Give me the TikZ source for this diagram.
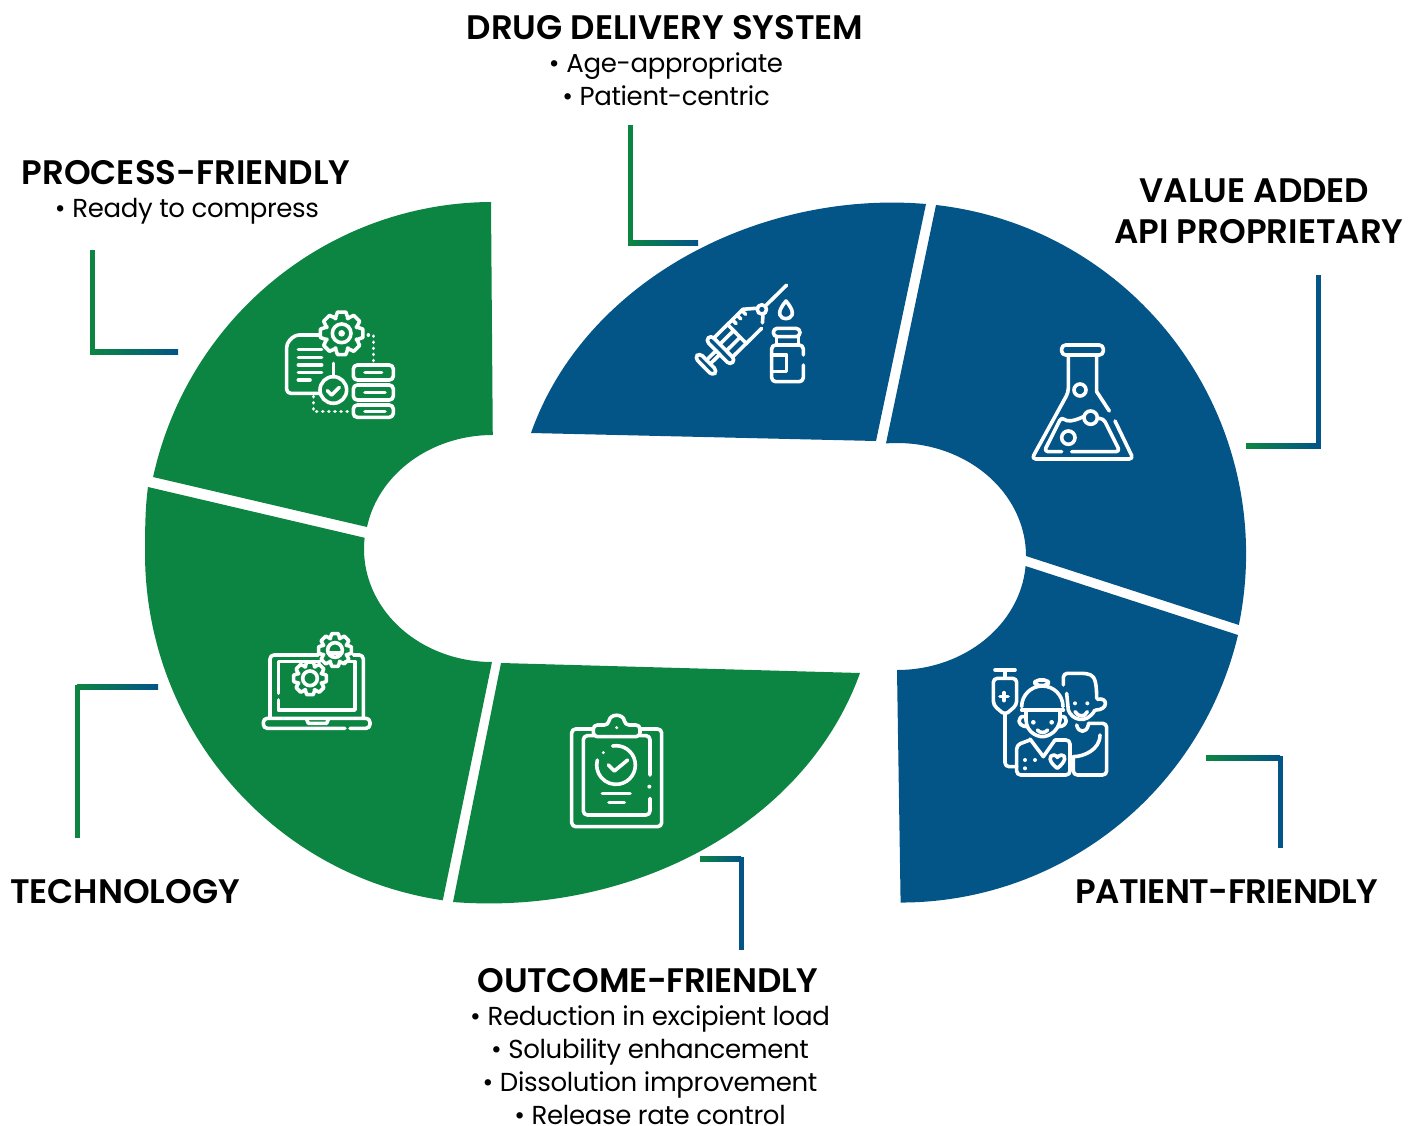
\documentclass[tikz,border=0pt]{standalone}
\usepackage{xcolor}
\usepackage{fontspec}
\usepackage{tikz}
\setmainfont{Poppins}[BoldFont={Poppins SemiBold}]
\definecolor{segGreen}{HTML}{0C8542}
\definecolor{segBlue}{HTML}{035487}
\tikzset{
    seggreen/.style={fill=segGreen},
    segblue/.style={fill=segBlue},
    heading/.style={font=\bfseries\fontsize{34}{41}\selectfont, align=center, inner sep=0pt},
    bullets/.style={font=\fontsize{26}{33}\selectfont\addfontfeature{LetterSpace=-1.3}, align=center, inner sep=0pt},
    greenlink/.style={draw=segGreen, line width=5pt},
    bluelink/.style={draw=segBlue, line width=5pt},
    linkfade/.style={left color=segGreen, right color=segBlue},
    iconline/.style={draw=white, line width=3.6pt, line cap=round, line join=round},
    iconround/.style={iconline, rounded corners=4pt},
    icondots/.style={iconline, dash pattern=on 0.1pt off 6pt},
    icondot/.style={fill=white},
    iconzoom/.style={x=0.3333pt, y=-0.3333pt}
}
\newcommand{\gearicon}[3]{%
    \begin{scope}[shift={(#1,#2)}]
        \draw[iconline] (-24:{0.74*#3}) \foreach \a in {0,45,...,315} {
            -- (\a-24:{0.74*#3}) -- (\a-11:#3) -- (\a+11:#3) -- (\a+24:{0.74*#3})} -- cycle;
    \end{scope}}
\begin{document}
\begin{tikzpicture}[x=1pt, y=-1pt]
    \useasboundingbox (0,0) rectangle (1421,1126);

    % Green half
    \path[seggreen] (491,202) arc[start angle=-90.3, end angle=-167.5, x radius=348, y radius=351]
        -- (367,527) arc[start angle=190.7, end angle=270, x radius=128, y radius=113] -- cycle;
    \path[seggreen] (148,487) .. controls (145.5,505) and (145,525) .. (145,553)
        arc[start angle=180, end angle=98.3, x radius=348, y radius=351]
        -- (492,662) arc[start angle=90, end angle=185.7, x radius=128, y radius=113] -- cycle;
    \path[seggreen] (501,663) -- (860,673) .. controls (805,826) and (630,916) .. (453,902) -- cycle;

    % Blue half
    \path[segblue] (531,433) .. controls (585,280) and (760,190) .. (926,204) -- (876,441) -- cycle;
    \path[segblue] (936,205) arc[start angle=-83.6, end angle=11.7, x radius=349, y radius=351]
        -- (1026,556) arc[start angle=0, end angle=-94.9, x radius=129, y radius=113] -- cycle;
    \path[segblue] (1238,635) arc[start angle=13.5, end angle=90, x radius=347, y radius=349]
        -- (897,670) arc[start angle=90, end angle=4.6, x radius=129, y radius=113] -- cycle;

    % Labels
    \node[heading] (drughead) at (665,28) {DRUG DELIVERY SYSTEM};
    \node[bullets] (drugtext) at (666,79.5) {• Age-appropriate\\• Patient-centric};
    \node[heading] (processhead) at (186,173) {PROCESS-FRIENDLY};
    \node[bullets] (processtext) at (187,211) {• Ready to compress};
    \node[heading] (valuehead) at (1259,211) {VALUE ADDED\hspace*{9pt}\\API PROPRIETARY};
    \node[heading] (techhead) at (125,892) {TECHNOLOGY};
    \node[heading] (patienthead) at (1227,892) {\addfontfeature{LetterSpace=-1.6}PATIENT-FRIENDLY};
    \node[heading] (outcomehead) at (648,981) {\addfontfeature{LetterSpace=-1}OUTCOME-FRIENDLY};
    \node[bullets] (outcometext) at (650,1065.5) {• Reduction in excipient load\\• Solubility enhancement\\• Dissolution improvement\\• Release rate control};

    % Connectors
    \coordinate (procA) at (92,250);
    \coordinate (procB) at (92,352);
    \coordinate (procC) at (178,352);
    \draw[greenlink] (procA) |- (procC);
    \shade[linkfade] ([yshift=2.5pt]procB) rectangle ([yshift=-2.5pt]procC);

    \coordinate (drugA) at (630,125);
    \coordinate (drugB) at (630,243);
    \coordinate (drugC) at (698,243);
    \draw[greenlink] (drugA) |- (drugC);
    \shade[linkfade] ([yshift=2.5pt]drugB) rectangle ([yshift=-2.5pt]drugC);

    \coordinate (valueA) at (1318,275);
    \coordinate (valueB) at (1318,446);
    \coordinate (valueC) at (1246,446);
    \draw[bluelink] (valueA) |- (valueC);
    \shade[linkfade] ([yshift=2.5pt]valueC) rectangle ([yshift=-2.5pt]valueB);

    \coordinate (techA) at (77,838);
    \coordinate (techB) at (77,687);
    \coordinate (techC) at (158,687);
    \draw[greenlink] (techA) |- (techC);
    \shade[linkfade] ([yshift=2.5pt]techB) rectangle ([yshift=-2.5pt]techC);

    \coordinate (patA) at (1280,848);
    \coordinate (patB) at (1280,758);
    \coordinate (patC) at (1206,758);
    \draw[bluelink] (patA) |- (patC);
    \shade[linkfade] ([yshift=2.5pt]patC) rectangle ([yshift=-2.5pt]patB);

    \coordinate (outA) at (741,950);
    \coordinate (outB) at (741,859);
    \coordinate (outC) at (700,859);
    \draw[bluelink] (outA) |- (outC);
    \shade[linkfade] ([yshift=2.5pt]outC) rectangle ([yshift=-2.5pt]outB);

    % Process icon
    \begin{scope}[shift={(270,300)}, iconzoom]
        \draw[iconround] (150,105) -- (75,105) -- (50,130) -- (50,280) -- (150,280);
        \foreach \ly in {148,172,195,218} \draw[iconline] (85,\ly) -- (155,\ly);
        \draw[iconline] (85,240) -- (120,240);
        \gearicon{215}{100}{65}
        \draw[iconline] (215,100) circle[radius=28];
        \fill[icondot] (215,100) circle[radius=10];
        \draw[iconline] (190,190) -- (190,230);
        \draw[iconline] (190,270) circle[radius=40];
        \draw[iconline] (172,272) -- (185,285) -- (208,262);
        \draw[iconround] (250,195) rectangle (370,240);
        \draw[iconround] (250,255) rectangle (370,300);
        \draw[iconround] (250,315) rectangle (370,352);
        \draw[iconline] (285,217) -- (335,217);
        \draw[iconline] (285,277) -- (345,277);
        \draw[iconline] (285,334) -- (345,334);
        \draw[icondots] (295,105) -- (310,105) -- (310,190);
        \draw[icondots] (130,290) -- (130,335) -- (245,335);
    \end{scope}

    % Syringe icon
    \begin{scope}[shift={(680,275)}, iconzoom]
        \begin{scope}[shift={(78,268)}, rotate=44.5]
            \draw[iconround] (-10,-38) rectangle (10,38);
            \draw[iconline] (10,-8) -- (50,-8);
            \draw[iconline] (10,8) -- (50,8);
            \draw[iconround] (50,-52) rectangle (72,52);
            \draw[iconline] (72,-40) -- (195,-40) -- (228,-12);
            \draw[iconline] (72,40) -- (195,40);
            \draw[iconline] (208,30) -- (228,12);
            \draw[iconline] (72,-14) -- (130,-14);
            \draw[iconline] (72,14) -- (130,14);
            \draw[iconline] (130,-40) -- (130,40);
            \foreach \lu in {150,170,190} \draw[iconline] (\lu,-40) -- (\lu,-24);
            \draw[iconline] (235,0) circle[radius=14];
            \draw[iconline] (249,0) -- (339,0);
        \end{scope}
        \draw[iconline] (318,78) .. controls (300,100) and (297,110) .. (300,120)
            .. controls (305,135) and (330,135) .. (336,120)
            .. controls (339,110) and (336,100) .. (318,78) -- cycle;
        \draw[iconround] (280,160) rectangle (360,185);
        \draw[iconline] (290,185) -- (290,210);
        \draw[iconline] (355,185) -- (355,210);
        \draw[iconround] (370,240) -- (370,210) -- (275,210) -- (275,320) -- (370,320) -- (370,270);
        \draw[iconline] (275,240) -- (320,240) -- (320,290) -- (275,290);
    \end{scope}

    % Flask icon
    \begin{scope}[shift={(1020,335)}, iconzoom]
        \draw[iconround] (125,30) rectangle (250,60);
        \draw[iconround] (145,60) -- (145,172) -- (35,372) -- (340,372) -- (285,258);
        \draw[iconline] (268,228) -- (230,170) -- (230,60);
        \draw[iconround] (125,350) -- (72,350) -- (125,245) .. controls (140,260) and (160,260) .. (190,245);
        \draw[iconround] (232,250) -- (250,250) -- (300,350) -- (155,350);
        \draw[iconline] (212,248) circle[radius=20];
        \draw[iconline] (180,165) circle[radius=18];
        \draw[iconline] (145,308) circle[radius=20];
    \end{scope}

    % Patient icon
    \begin{scope}[shift={(980,660)}, iconzoom]
        \draw[iconline] (45,30) -- (105,30);
        \draw[iconline] (75,30) -- (75,55);
        \draw[iconround] (75,165) -- (40,135) -- (40,55) -- (110,55) -- (110,135) -- cycle;
        \draw[iconline] (72,98) -- (72,122);
        \draw[iconline] (60,110) -- (84,110);
        \draw[iconround] (75,165) -- (75,320) -- (110,320);
        % child
        \draw[iconline] (125,140) arc[start angle=180, end angle=360, radius=62];
        \draw[iconline] (125,150) -- (250,150);
        \draw[iconround] (165,60) rectangle (205,76);
        \draw[iconline] (138,155) -- (138,180) .. controls (140,220) and (175,230) .. (187,230)
            .. controls (205,230) and (235,215) .. (240,180) -- (240,155);
        \draw[iconline] (135,170) .. controls (110,165) and (110,200) .. (142,200);
        \draw[iconline] (243,170) .. controls (265,165) and (265,200) .. (236,200);
        \fill[icondot] (160,187) circle[radius=7];
        \fill[icondot] (215,187) circle[radius=7];
        \draw[iconline] (172,210) .. controls (180,220) and (195,220) .. (203,210);
        \draw[iconround] (150,240) -- (110,255) -- (110,345) -- (270,345) -- (270,240) -- (225,240);
        \draw[iconline] (150,237) -- (190,290) -- (225,240);
        \fill[icondot] (135,300) circle[radius=6];
        \fill[icondot] (165,300) circle[radius=6];
        \fill[icondot] (135,325) circle[radius=6];
        \draw[iconline] (232,325) .. controls (205,305) and (205,285) .. (222,285)
            .. controls (228,285) and (232,292) .. (232,292)
            .. controls (232,292) and (238,285) .. (244,285)
            .. controls (260,285) and (258,305) .. (232,325) -- cycle;
        % adult
        \draw[iconround] (250,75) -- (250,40) -- (320,40) .. controls (345,50) and (350,70) .. (350,115);
        \draw[iconline] (260,100) -- (265,150) .. controls (275,180) and (320,195) .. (345,150);
        \draw[iconline] (352,118) .. controls (385,110) and (385,150) .. (348,150);
        \fill[icondot] (285,130) circle[radius=6];
        \fill[icondot] (322,130) circle[radius=6];
        \draw[iconline] (285,155) .. controls (295,172) and (315,172) .. (322,155);
        \draw[iconline] (290,195) .. controls (295,220) and (320,220) .. (325,195);
        \draw[iconround] (325,190) -- (380,190) -- (380,345) -- (280,345) -- (280,290);
        \draw[iconline] (360,225) .. controls (360,270) and (310,290) .. (280,290);
    \end{scope}

    % Clipboard icon
    \begin{scope}[shift={(555,705)}, iconzoom]
        \draw[iconround] (115,72) -- (50,72) -- (50,365) -- (320,365) -- (320,72) -- (255,72);
        \draw[iconround] (115,95) -- (115,60) -- (160,60) .. controls (165,25) and (205,25) .. (210,60)
            -- (255,60) -- (255,95) -- cycle;
        \fill[icondot] (185,68) circle[radius=5];
        \draw[iconround] (115,92) -- (85,92) -- (85,330) -- (285,330) -- (285,280);
        \draw[iconround] (255,92) -- (285,92) -- (285,210);
        \fill[icondot] (283,245) circle[radius=6];
        \draw[iconline] (173,123) arc[start angle=-100, end angle=195, radius=58];
        \fill[icondot] (145,143) circle[radius=5];
        \draw[iconline] (160,180) -- (178,198) -- (218,165);
        \draw[iconline] (142,265) -- (225,265);
        \draw[iconline] (162,293) -- (208,293);
    \end{scope}

    % Laptop icon
    \begin{scope}[shift={(255,625)}, iconzoom]
        \draw[iconround] (190,90) -- (45,90) -- (45,280);
        \draw[iconround] (295,90) -- (325,90) -- (325,280);
        \draw[iconline] (70,225) -- (70,255) -- (300,255) -- (300,110) -- (270,110);
        \draw[iconline] (195,110) -- (70,110) -- (70,205);
        \draw[iconround] (270,310) -- (25,310) -- (25,280) -- (345,280) -- (345,310) -- (285,310);
        \draw[iconline] (155,283) -- (160,295) -- (215,295) -- (220,283);
        \gearicon{165}{160}{50}
        \draw[iconline] (165,160) circle[radius=22];
        \gearicon{240}{75}{50}
        \draw[iconline] (240,75) circle[radius=22];
        \draw[iconline] (220,84) -- (260,84);
    \end{scope}
\end{tikzpicture}
\end{document}
